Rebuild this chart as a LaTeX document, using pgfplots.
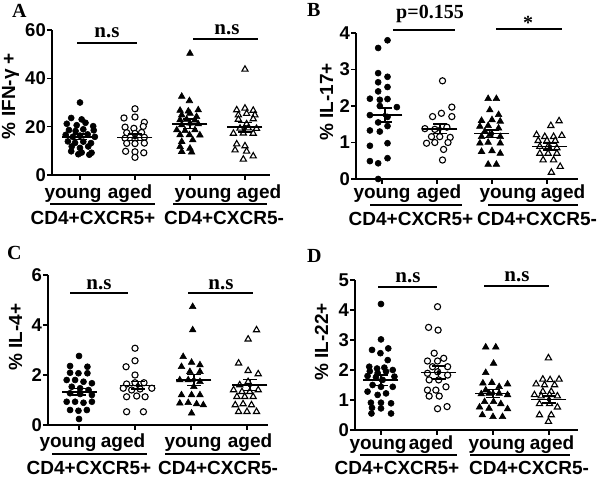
\documentclass[border=0pt]{standalone}
\usepackage{pgfplots}
\pgfplotsset{compat=1.18}
\usepackage{fontspec}
\setmainfont{Liberation Sans}
\newfontfamily\serifb{Liberation Serif}
\newcommand{\lab}{\fontsize{19}{20}\selectfont\bfseries}
\newcommand{\tkl}{\fontsize{18.5}{20}\selectfont\bfseries}
\newcommand{\ser}{\serifb\fontsize{20}{22}\selectfont\bfseries}
\newcommand{\nsf}{\serifb\fontsize{21}{22}\selectfont\bfseries}
\pgfplotsset{
  panel/.style={
    scale only axis, anchor=south west,
    axis x line*=bottom, axis y line*=left,
    axis line style={line width=1.6pt, -},
    tick style={line width=1.6pt, black},
    major tick length=5pt,
    tick align=outside,
    xtick={0,1,2,3}, xticklabels={,,,},
    ymin=0, clip=false,
    tick label style={font=\tkl},
    /pgf/number format/assume math mode=true,
    yticklabel style={inner sep=1pt},
  },
  yc/.style={only marks, mark=*, mark size=3pt, mark options={fill=black, draw=black, line width=0.6pt}},
  oc/.style={only marks, mark=*, mark size=3.1pt, mark options={fill=white, draw=black, line width=1.1pt}},
  yt/.style={only marks, mark=triangle*, mark size=3.8pt, mark options={fill=black, draw=black, line width=0.6pt}},
  ot/.style={only marks, mark=triangle*, mark size=3.6pt, mark options={fill=white, draw=black, line width=1.1pt}},
  meanl/.style={only marks, mark=-, mark size=17.5pt, mark options={line width=1.5pt, draw=black}},
  capl/.style={only marks, mark=-, mark size=7pt, mark options={line width=1.5pt, draw=black}},
  semb/.style={only marks, mark=none, error bars/.cd, y dir=both, y explicit, error mark=none, error bar style={line width=1.5pt, draw=black, solid}},
}
\begin{document}
\begin{tikzpicture}
% ---------------- A ----------------
\begin{axis}[panel, at={(52pt,304pt)}, width=218pt, height=145pt,
  xmin=-0.509, xmax=3.455, ymax=60, ytick={0,20,40,60}]
\addplot[yc] coordinates {(0.00,30.0) (-0.16,23.6) (0.03,23.0) (-0.24,21.2) (-0.06,20.6) (0.10,21.6) (0.24,20.2) (-0.20,18.6) (-0.08,18.2) (0.06,18.9) (0.25,18.5) (-0.26,16.6) (-0.13,15.8) (0.00,16.3) (0.14,16.8) (0.27,15.8) (-0.22,13.9) (-0.09,13.3) (0.06,13.8) (0.20,13.2) (-0.15,11.8) (0.00,11.2) (0.15,11.8) (-0.16,9.8) (0.03,9.3) (0.21,9.2) (-0.03,8.6) (0.17,8.4)};
\addplot[oc] coordinates {(1.00,27.4) (0.80,23.6) (1.00,24.0) (1.17,21.8) (0.82,19.8) (0.98,19.3) (1.15,20.1) (0.85,17.5) (1.00,17.2) (1.12,17.6) (0.82,15.2) (1.00,14.8) (1.17,15.6) (0.85,13.1) (1.00,13.0) (1.17,13.2) (0.83,9.8) (1.00,9.6) (1.16,9.2) (1.00,7.3)};
\addplot[yt] coordinates {(2.00,50.3) (1.85,32.5) (1.99,30.7) (1.82,26.7) (1.97,26.4) (2.15,26.9) (1.85,24.8) (2.00,25.5) (2.12,24.1) (1.82,22.8) (1.94,23.0) (2.09,22.7) (1.85,20.7) (2.00,21.4) (2.15,21.1) (1.76,18.6) (1.91,18.3) (2.09,18.6) (1.82,16.6) (1.99,16.6) (2.18,16.5) (1.85,13.8) (2.05,14.5) (1.82,11.7) (2.00,11.0) (1.85,9.7) (2.03,9.4)};
\addplot[ot] coordinates {(3.00,43.7) (3.00,27.6) (2.85,26.9) (3.15,26.7) (2.88,24.8) (3.03,25.4) (3.18,24.8) (2.88,23.0) (3.15,23.2) (3.03,21.1) (2.91,19.3) (3.06,19.4) (3.21,19.2) (2.79,17.2) (2.97,17.3) (3.15,17.2) (2.85,12.8) (3.00,12.0) (2.82,10.3) (3.03,9.8) (2.97,6.5) (3.15,7.8)};
\addplot[meanl] coordinates {(0,15.8) (1,15.6) (2,21.2) (3,19.8)};
\addplot[capl] coordinates {(0,17.0) (0,14.6) (1,17.0) (1,14.2) (2,23.2) (2,19.2) (3,21.8) (3,17.8)};
\addplot[semb] coordinates {(0,15.8) +- (0,1.2) (1,15.6) +- (0,1.4) (2,21.2) +- (0,2.0) (3,19.8) +- (0,2.0)};
\end{axis}
% ---------------- B ----------------
\begin{axis}[panel, at={(356pt,300pt)}, width=222pt, height=146pt,
  xmin=-0.473, xmax=3.564, ymax=4, ytick={0,1,2,3,4}]
\addplot[yc] coordinates {(0.10,3.80) (-0.07,3.59) (-0.07,2.90) (0.10,2.80) (-0.07,2.65) (0.10,2.52) (-0.07,2.40) (-0.22,2.20) (-0.04,2.17) (0.10,2.19) (-0.04,2.00) (0.27,1.97) (-0.22,1.75) (0.10,1.70) (-0.07,1.55) (0.10,1.45) (-0.22,1.33) (-0.04,1.30) (0.10,0.98) (-0.22,0.91) (0.10,0.57) (-0.22,0.49) (-0.07,0.43) (-0.07,0.00)};
\addplot[oc] coordinates {(1.10,2.69) (1.27,1.97) (1.08,1.80) (0.92,1.71) (1.27,1.71) (0.78,1.38) (0.96,1.36) (1.18,1.42) (0.90,1.16) (1.05,1.16) (1.24,1.14) (0.81,0.98) (0.96,1.00) (1.20,1.00) (1.12,0.81) (1.10,0.52)};
\addplot[yt] coordinates {(1.93,2.20) (2.08,2.20) (1.96,1.89) (2.12,1.76) (1.81,1.60) (2.00,1.62) (2.15,1.58) (1.78,1.44) (1.93,1.46) (2.12,1.39) (1.87,1.30) (1.81,1.16) (1.96,1.21) (2.15,1.16) (1.78,0.98) (1.93,1.00) (2.15,0.98) (1.81,0.75) (2.00,0.77) (2.15,0.70) (1.93,0.40) (2.08,0.40)};
\addplot[ot] coordinates {(3.07,1.46) (3.22,1.59) (2.81,1.21) (2.96,1.16) (3.12,1.16) (3.27,1.19) (2.84,1.05) (3.00,1.05) (3.15,1.05) (2.87,0.89) (3.02,0.89) (3.18,0.85) (2.87,0.70) (3.02,0.70) (3.18,0.70) (2.93,0.52) (3.12,0.52) (3.24,0.34) (3.08,0.18)};
\addplot[meanl] coordinates {(0.05,1.75) (1.05,1.37) (2,1.24) (3.05,0.89)};
\addplot[capl] coordinates {(0.05,1.94) (0.05,1.56) (1.05,1.50) (1.05,1.24) (2,1.34) (2,1.14) (3.05,0.98) (3.05,0.80)};
\addplot[semb] coordinates {(0.05,1.75) +- (0,0.19) (1.05,1.37) +- (0,0.13) (2,1.24) +- (0,0.10) (3.05,0.89) +- (0,0.09)};
\end{axis}
% ---------------- C ----------------
\begin{axis}[panel, at={(48pt,54pt)}, width=220pt, height=150pt,
  xmin=-0.554, xmax=3.375, ymax=6, ytick={0,2,4,6}]
\addplot[yc] coordinates {(0.00,2.76) (-0.16,2.36) (0.15,2.33) (-0.16,2.09) (-0.01,2.07) (0.15,2.07) (-0.22,1.80) (-0.07,1.80) (0.08,1.73) (0.23,1.67) (-0.13,1.53) (0.02,1.47) (0.17,1.40) (-0.16,1.27) (0.02,1.24) (0.23,1.20) (-0.22,0.93) (-0.07,0.93) (0.08,0.89) (0.23,0.93) (-0.16,0.60) (-0.01,0.57) (0.14,0.60) (0.00,0.24)};
\addplot[oc] coordinates {(1.00,3.07) (1.00,2.57) (0.84,2.33) (1.00,2.00) (0.85,1.64) (1.00,1.69) (1.16,1.69) (1.30,1.47) (0.79,1.47) (0.94,1.40) (1.09,1.44) (0.85,1.13) (1.03,1.16) (1.18,1.13) (0.85,0.53) (1.15,0.53)};
\addplot[yt] coordinates {(2.03,4.73) (2.03,3.80) (1.86,2.73) (2.01,2.50) (1.83,2.33) (2.16,2.40) (1.98,2.13) (2.16,2.13) (1.80,1.80) (1.95,1.80) (2.16,1.73) (2.05,1.53) (1.83,1.20) (2.01,1.20) (2.16,1.20) (1.80,0.87) (1.95,0.89) (2.10,0.84) (2.22,0.80) (2.01,0.47)};
\addplot[ot] coordinates {(3.17,3.80) (3.02,3.43) (2.85,2.47) (3.02,2.17) (3.20,2.04) (3.02,1.73) (2.87,1.60) (2.76,1.40) (2.91,1.33) (3.05,1.33) (3.20,1.40) (2.82,1.13) (2.96,1.13) (3.11,1.13) (2.79,0.80) (2.93,0.84) (3.08,0.80) (2.85,0.53) (3.00,0.53) (3.17,0.53)};
\addplot[meanl] coordinates {(0,1.32) (1.05,1.58) (2.05,1.80) (3.05,1.60)};
\addplot[capl] coordinates {(0,1.45) (0,1.19) (1.05,1.73) (1.05,1.43) (2.05,2.02) (2.05,1.58) (3.05,1.82) (3.05,1.38)};
\addplot[semb] coordinates {(0,1.32) +- (0,0.13) (1.05,1.58) +- (0,0.15) (2.05,1.80) +- (0,0.22) (3.05,1.60) +- (0,0.22)};
\end{axis}
% ---------------- D ----------------
\begin{axis}[panel, at={(355pt,49pt)}, width=223pt, height=150pt,
  xmin=-0.464, xmax=3.518, ymax=5, ytick={0,1,2,3,4,5}]
\addplot[yc] coordinates {(0.00,4.20) (0.00,3.02) (-0.16,2.67) (0.13,2.72) (-0.01,2.56) (0.12,2.33) (-0.21,2.11) (-0.07,2.05) (0.06,2.08) (0.21,2.00) (-0.20,1.96) (-0.06,1.90) (0.09,1.95) (0.24,1.78) (-0.24,1.80) (-0.09,1.76) (0.03,1.67) (-0.15,1.50) (0.00,1.44) (0.21,1.44) (-0.24,1.28) (-0.06,1.17) (0.09,1.22) (-0.18,0.91) (0.00,0.91) (0.18,0.89) (-0.16,0.74) (0.00,0.72) (-0.17,0.55) (0.18,0.55)};
\addplot[oc] coordinates {(1.01,4.11) (0.85,3.42) (1.02,3.33) (0.95,2.56) (1.12,2.39) (0.83,2.30) (1.01,2.30) (1.19,2.11) (0.92,2.11) (0.83,1.89) (1.01,1.94) (1.19,1.83) (0.86,1.67) (1.03,1.67) (1.16,1.44) (0.83,1.33) (0.98,1.33) (0.86,1.13) (1.04,1.13) (1.01,0.71) (1.18,0.78)};
\addplot[yt] coordinates {(1.87,2.76) (2.05,2.76) (2.01,2.22) (1.87,1.91) (1.82,1.56) (1.98,1.58) (2.11,1.44) (2.26,1.53) (1.87,1.33) (1.79,1.20) (1.93,1.22) (2.11,1.22) (2.26,1.17) (1.85,0.94) (2.01,0.94) (2.14,0.87) (1.76,0.76) (1.93,0.72) (2.26,0.70) (1.81,0.50) (2.00,0.44) (2.17,0.44)};
\addplot[ot] coordinates {(2.99,2.40) (2.89,1.69) (3.02,1.67) (3.18,1.69) (2.77,1.53) (2.92,1.50) (3.10,1.50) (2.89,1.28) (3.04,1.28) (2.74,1.17) (2.86,1.13) (3.01,1.17) (3.15,1.13) (2.83,0.87) (3.01,0.87) (3.15,0.76) (2.83,0.50) (3.04,0.50) (2.99,0.28)};
\addplot[meanl] coordinates {(0,1.66) (1.03,1.92) (2.0,1.22) (3.0,1.02)};
\addplot[capl] coordinates {(0,1.84) (0,1.48) (1.03,2.14) (1.03,1.70) (2.0,1.35) (2.0,1.09) (3.0,1.14) (3.0,0.90)};
\addplot[semb] coordinates {(0,1.66) +- (0,0.18) (1.03,1.92) +- (0,0.22) (2.0,1.22) +- (0,0.13) (3.0,1.02) +- (0,0.12)};
\end{axis}
% ---------------- annotations (pixel coordinates, y downwards) ----------------
\begin{scope}[x=1pt, y=-1pt, yshift=479pt]
% panel letters
\node[font=\ser, anchor=base west, inner sep=0pt] at (12,18) {A};
\node[font=\ser, anchor=base west, inner sep=0pt] at (307,17) {B};
\node[font=\ser, anchor=base west, inner sep=0pt] at (7,260) {C};
\node[font=\ser, anchor=base west, inner sep=0pt] at (307,263) {D};
% y labels
\node[font=\lab, rotate=90, anchor=base, inner sep=0pt] at (15,96) {\% IFN-γ +};
\node[font=\lab, rotate=90, anchor=base, inner sep=0pt] at (333,102) {\% IL-17+};
\node[font=\lab, rotate=90, anchor=base, inner sep=0pt] at (22,337) {\% IL-4+};
\node[font=\lab, rotate=90, anchor=base, inner sep=0pt] at (328,342) {\% IL-22+};
% significance
\draw[line width=1.8pt] (77,43) -- (137,43);
\draw[line width=1.8pt] (193,39) -- (258,39);
\node[font=\nsf, anchor=base, inner sep=0pt] at (107,38) {n.s};
\node[font=\nsf, anchor=base, inner sep=0pt] at (227,35) {n.s};
\draw[line width=1.8pt] (393,30) -- (455,30);
\draw[line width=1.8pt] (496,29) -- (562,29);
\node[font=\ser, anchor=base, inner sep=0pt] at (430,19) {p=0.155};
\node[font=\ser, anchor=base, inner sep=0pt] at (528,30) {*};
\draw[line width=1.8pt] (70,293) -- (128,293);
\draw[line width=1.8pt] (188,293) -- (253,293);
\node[font=\nsf, anchor=base, inner sep=0pt] at (99,290) {n.s};
\node[font=\nsf, anchor=base, inner sep=0pt] at (221,290) {n.s};
\draw[line width=1.8pt] (378,287) -- (437,287);
\draw[line width=1.8pt] (484,286) -- (549,286);
\node[font=\nsf, anchor=base, inner sep=0pt] at (408,283) {n.s};
\node[font=\nsf, anchor=base, inner sep=0pt] at (517,282) {n.s};
% group labels A
\node[font=\lab, anchor=base, inner sep=0pt] at (73,199) {young};
\node[font=\lab, anchor=base, inner sep=0pt] at (130,199) {aged};
\node[font=\lab, anchor=base, inner sep=0pt] at (203,199) {young};
\node[font=\lab, anchor=base, inner sep=0pt] at (259,199) {aged};
\draw[line width=1.6pt] (50,204) -- (155,204);
\draw[line width=1.6pt] (173,204) -- (267,204);
\node[font=\lab, anchor=base, inner sep=0pt] at (93,225) {CD4+CXCR5+};
\node[font=\lab, anchor=base, inner sep=0pt] at (224,225) {CD4+CXCR5-};
% group labels B
\node[font=\lab, anchor=base, inner sep=0pt] at (382,199) {young};
\node[font=\lab, anchor=base, inner sep=0pt] at (439,199) {aged};
\node[font=\lab, anchor=base, inner sep=0pt] at (508,199) {young};
\node[font=\lab, anchor=base, inner sep=0pt] at (563,199) {aged};
\draw[line width=1.6pt] (370,205) -- (462,205);
\draw[line width=1.6pt] (488,205) -- (578,205);
\node[font=\lab, anchor=base, inner sep=0pt] at (411,226) {CD4+CXCR5+};
\node[font=\lab, anchor=base, inner sep=0pt] at (537,226) {CD4+CXCR5-};
% group labels C
\node[font=\lab, anchor=base, inner sep=0pt] at (68,448) {young};
\node[font=\lab, anchor=base, inner sep=0pt] at (123,448) {aged};
\node[font=\lab, anchor=base, inner sep=0pt] at (193,448) {young};
\node[font=\lab, anchor=base, inner sep=0pt] at (250,448) {aged};
\draw[line width=1.6pt] (52,454) -- (147,454);
\draw[line width=1.6pt] (165,454) -- (260,454);
\node[font=\lab, anchor=base, inner sep=0pt] at (89,475) {CD4+CXCR5+};
\node[font=\lab, anchor=base, inner sep=0pt] at (218,475) {CD4+CXCR5-};
% group labels D
\node[font=\lab, anchor=base, inner sep=0pt] at (378,450) {young};
\node[font=\lab, anchor=base, inner sep=0pt] at (431,450) {aged};
\node[font=\lab, anchor=base, inner sep=0pt] at (497,450) {young};
\node[font=\lab, anchor=base, inner sep=0pt] at (552,450) {aged};
\draw[line width=1.6pt] (360,455) -- (457,455);
\draw[line width=1.6pt] (470,455) -- (570,455);
\node[font=\lab, anchor=base, inner sep=0pt] at (397,475) {CD4+CXCR5+};
\node[font=\lab, anchor=base, inner sep=0pt] at (529,475) {CD4+CXCR5-};
\end{scope}
\pgfresetboundingbox
\path[use as bounding box] (0,0) rectangle (600pt,479pt);
\end{tikzpicture}
\end{document}
